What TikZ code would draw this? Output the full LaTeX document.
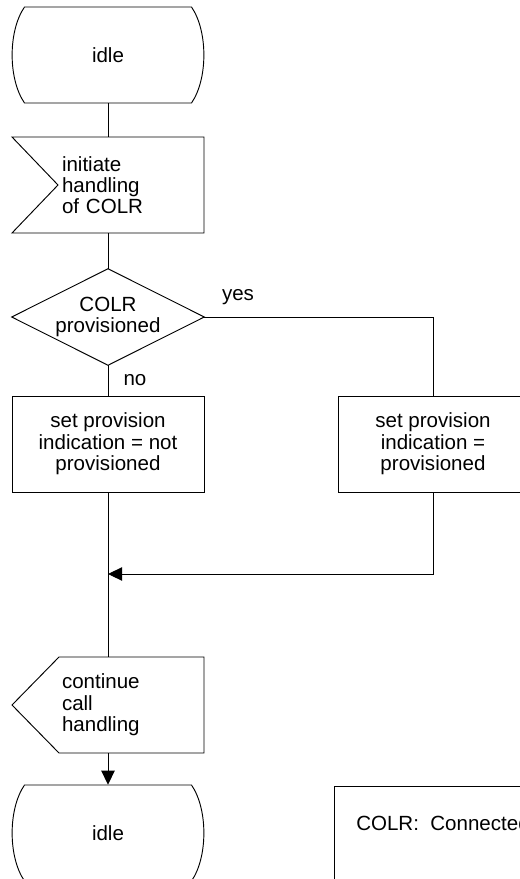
\documentclass[tikz,border=0pt]{standalone}
\usepackage{fontspec}
\setmainfont{Liberation Sans}
\usetikzlibrary{arrows.meta,calc}

\tikzset{
  flow/.style={line width=0.7pt, draw=black},
  arr/.style={flow, -{Triangle[length=10.5pt,width=10pt]}},
  frame/.style={inner sep=0pt, minimum width=144pt, minimum height=72pt,
    font=\fontsize{15.4}{16}\selectfont},
  signaltext/.style={frame, text width=69pt, align=left},
  taskbox/.style={frame, draw, line width=0.7pt, align=center},
  lbl/.style={inner sep=0pt, font=\fontsize{15.4}{16}\selectfont},
}

\begin{document}
\begin{tikzpicture}[x=0.75pt, y=-0.75pt]
\useasboundingbox (0,0) rectangle (520,879);
\clip (0,0) rectangle (520,879);

% nodes
\node[frame] (idleA) at (108,55) {idle};
\node[signaltext] (inp) at (108,185) {initiate\\handling\\of COLR};
\node[frame, align=center] (dec) at (108,317) {COLR\\provisioned};
\node[taskbox] (boxL) at (108,444) {set provision\\indication = not\\provisioned};
\node[taskbox, minimum width=142.5pt] (boxR) at (433,444) {set provision\\indication =\\provisioned};
\node[signaltext] (out) at (108,705) {continue\\call\\handling};
\node[frame] (idleB) at (108,833) {idle};
\coordinate (join) at (108,574);

% state symbols
\foreach \s in {idleA, idleB}
  \draw[flow, shift={(\s.center)}]
    (-83.5,-48) -- (83.5,-48)
    .. controls (100,-24) and (100,24) .. (83.5,48)
    -- (-83.5,48)
    .. controls (-100,24) and (-100,-24) .. (-83.5,-48) -- cycle;

% input signal
\draw[flow, shift={(inp.center)}]
  (-96,-48) -- (96,-48) -- (96,48) -- (-96,48) -- (-50,0) -- cycle;

% decision
\draw[flow] (dec.north) -- (dec.east) -- (dec.south) -- (dec.west) -- cycle;

% output signal
\draw[flow, shift={(out.center)}]
  (96,-48) -- (-49,-48) -- (-96,0) -- (-49,48) -- (96,48) -- cycle;

% comment box
\node[lbl, anchor=west] (note) at (356,823) {COLR:\ \ Connected Line Identification Restriction};
\draw[flow] (334,786) rectangle (620,960);

% connectors
\draw[flow] (idleA.south) -- (inp.north);
\draw[flow] (inp.south) -- (dec.north);
\draw[flow] (dec.south) -- (boxL.north);
\draw[flow] (dec.east) -| (boxR.north);
\draw[flow] (boxL.south) -- (out.north);
\draw[arr] (boxR.south) |- (join);
\draw[arr] (out.south) -- (idleB.north);

% branch labels
\node[lbl] (yes) at (238,297) {yes};
\node[lbl] (no) at (135,380) {no};
\end{tikzpicture}
\end{document}
